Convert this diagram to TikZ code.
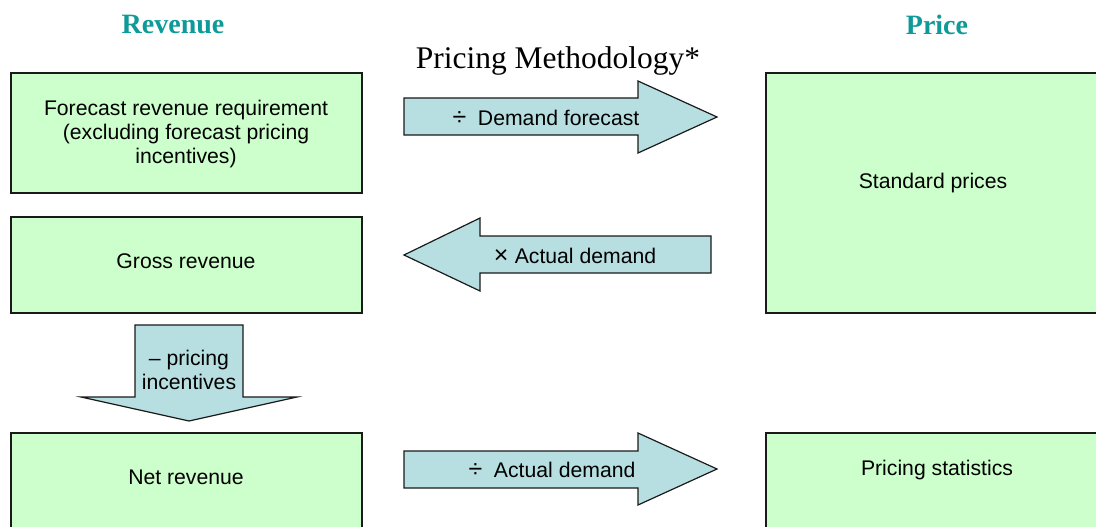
\documentclass[tikz,border=0pt]{standalone}
\usepackage{fontspec}
\setmainfont{Liberation Sans}
\newfontfamily\serifface{Liberation Serif}
\definecolor{boxgreen}{HTML}{CCFFCC}
\definecolor{arrowblue}{HTML}{B7DFE1}
\definecolor{headteal}{HTML}{0E9A98}
\definecolor{edge}{HTML}{1A1A1A}
\newcommand{\opsym}[1]{{\fontsize{25}{25}\selectfont #1}}
\begin{document}
\begin{tikzpicture}[x=1pt,y=-1pt,
  stage/.style={draw=edge,line width=1.8pt,fill=boxgreen},
  flow/.style={draw=edge,line width=1.2pt,fill=arrowblue,line join=miter},
  boxtext/.style={font=\fontsize{21.2}{24.2}\selectfont,align=center,inner sep=0pt},
  coltitle/.style={font=\serifface\bfseries\fontsize{28}{32}\selectfont,text=headteal,inner sep=0pt}]
\useasboundingbox (0,0) rectangle (1096,527);
\clip (0,0) rectangle (1096,527);

% column headings and title
\node[coltitle] (revhead) at (173,25) {Revenue};
\node[coltitle] (pricehead) at (937,25) {Price};
\node[font=\serifface\fontsize{31.5}{34}\selectfont,inner sep=0pt] (title) at (558,61) {Pricing Methodology*};

% revenue and price boxes
\draw[stage] (11,73) rectangle (362,193);
\node[boxtext] (forecast) at (186,134) {Forecast revenue requirement\\(excluding forecast pricing\\incentives)};
\draw[stage] (11,217) rectangle (362,313);
\node[boxtext] (gross) at (186,261) {Gross revenue};
\draw[stage] (11,433) rectangle (362,545);
\node[boxtext] (net) at (186,477) {Net revenue};
\draw[stage] (766,73) rectangle (1110,313);
\node[boxtext] (standard) at (933,183) {Standard prices};
\draw[stage] (766,433) rectangle (1110,545);
\node[boxtext] (stats) at (937,470) {Pricing statistics};

% block arrows between the boxes
\draw[flow] (404,98) -- (638,98) -- (638,81) -- (717,117) -- (638,153) -- (638,135) -- (404,135) -- cycle;
\node[boxtext] (divfc) at (546,118) {\opsym{÷}\hspace{0.55em}Demand forecast};

\draw[flow] (711,236) -- (480,236) -- (480,218) -- (404,255) -- (480,291) -- (480,273) -- (711,273) -- cycle;
\node[boxtext] (mulad) at (575,256) {\opsym{×}\hspace{0.3em}Actual demand};

\draw[flow] (404,451) -- (638,451) -- (638,433) -- (717,469) -- (638,505) -- (638,488) -- (404,488) -- cycle;
\node[boxtext] (divad) at (552,470) {\opsym{÷}\hspace{0.55em}Actual demand};

\draw[flow] (135,325) -- (243,325) -- (243,397) -- (297,397) -- (189,421) -- (81,397) -- (135,397) -- cycle;
\node[boxtext] (incent) at (189,370) {– pricing\\incentives};
\end{tikzpicture}
\end{document}
